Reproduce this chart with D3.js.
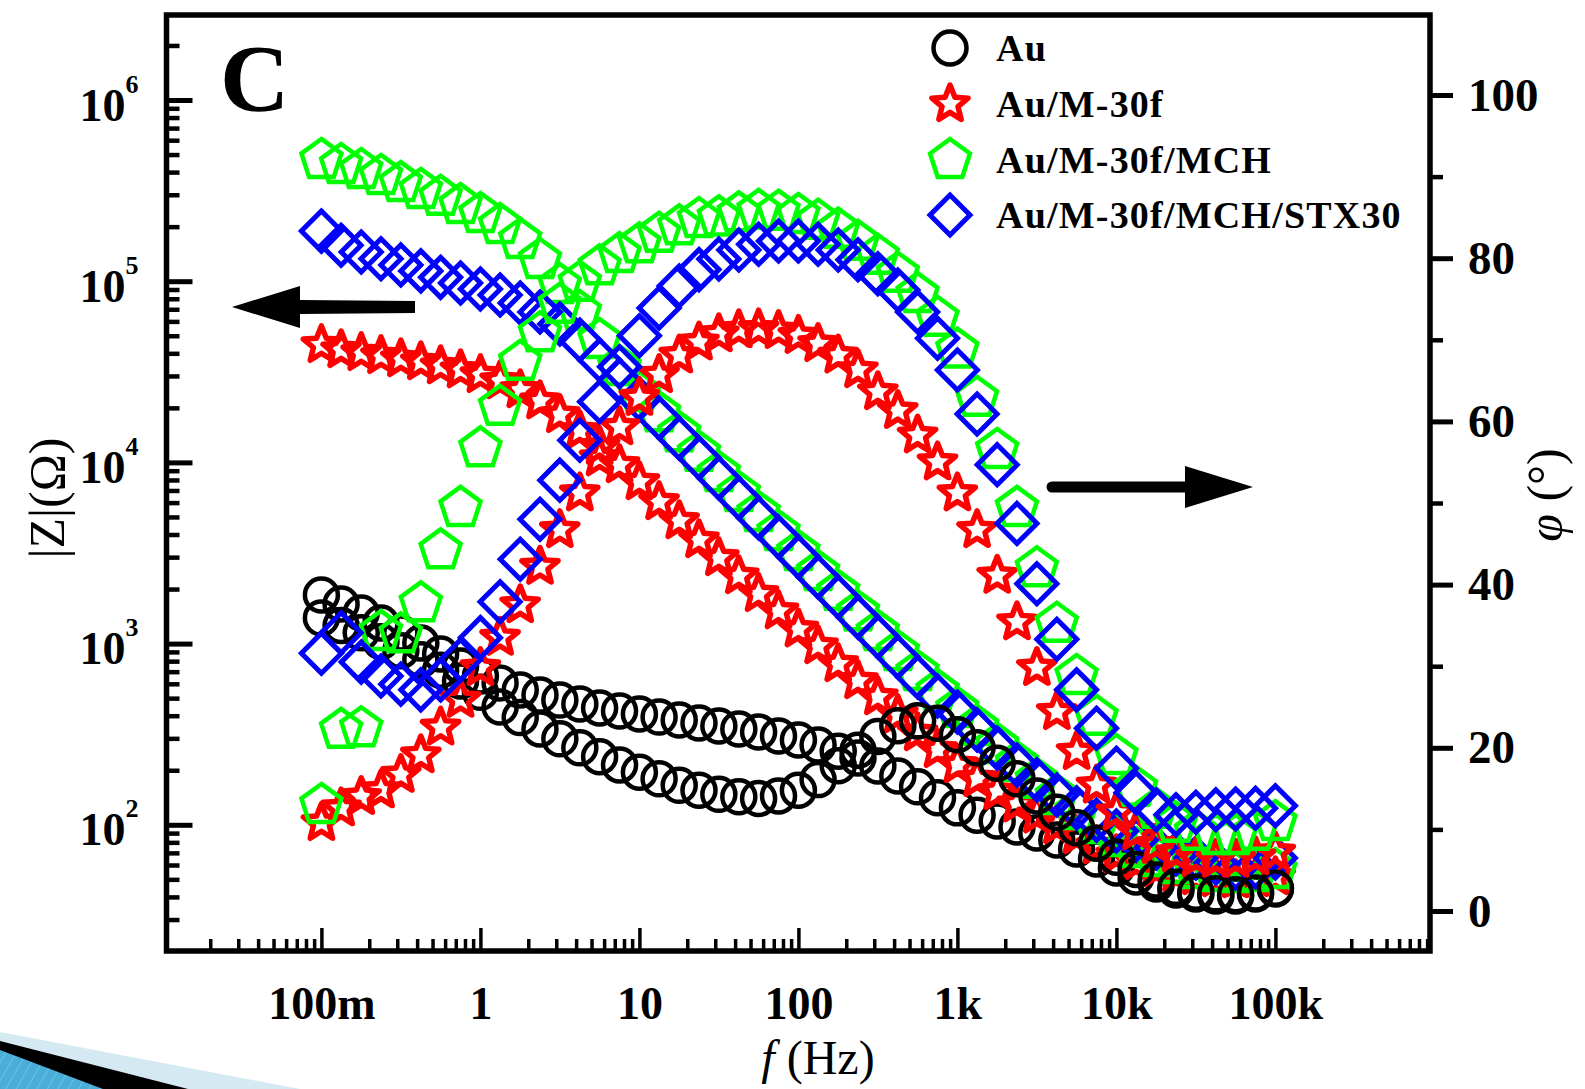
<!DOCTYPE html>
<html><head><meta charset="utf-8">
<script src="https://cdn.jsdelivr.net/npm/d3@7"></script>
<style>html,body{margin:0;padding:0;background:#fff}svg{display:block}</style>
</head><body>
<svg id="c" width="1585" height="1089"></svg>
<script>
// ---------------- data ----------------
const freq = [0.1,0.133,0.178,0.237,0.316,0.422,0.562,0.75,
  1,1.33,1.78,2.37,3.16,4.22,5.62,7.5,
  10,13.3,17.8,23.7,31.6,42.2,56.2,75,
  100,133,178,237,316,422,562,750,
  1000,1330,1780,2370,3160,4220,5620,7500,
  10000,13300,17800,23700,31600,42200,56200,75000,100000];

const seriesNames = ["Au","Au/M-30f","Au/M-30f/MCH","Au/M-30f/MCH/STX30"];

// |Z| (Ohm)
const zAu = [1855,1654,1476,1299,1144,1008,876,752,663,606,555,520,488,464,441,425,409,393,379,365,351,338,325,309,294,276,255,234,211,186,162,141,124,113,105,97.3,90.1,82.4,73.5,64.8,57.8,51.5,47.1,43.7,41.5,40.5,40.5,41.5,44.2];
const zM30f = [44500,41700,40200,38700,37200,35800,34000,32300,30400,28100,25100,21800,18300,14900,12200,9680,7800,6050,4750,3730,2970,2360,1880,1510,1200,970,772,622,507,404,321,259,214,179,152,130,113,98.5,86.8,76.4,68.1,61.5,57.0,53.5,51.5,50.2,49.6,50.2,51.5];
const zMCH = [467000,438000,411000,381000,348000,319000,292000,263000,235000,204000,169000,131000,95300,67600,47400,33600,24200,18700,14500,11300,8740,6780,5260,4130,3200,2480,1930,1490,1160,899,697,547,436,347,276,219,177,144,119,99.7,84.6,73.5,65.6,60.0,56.3,54.2,53.5,54.2,56.3];
const zSTX = [189000,158000,145000,133000,123000,114000,105000,97700,90600,83900,75800,67600,58000,47400,36700,28500,22400,17600,13600,10600,8200,6360,4930,3880,3010,2330,1810,1400,1090,844,654,514,419,334,265,214,177,146,124,106,92.4,82.4,74.5,69.0,65.6,61.5,57.8,58.6,65.6];

// phase (deg)
const phAu = [35.9,35.0,34.1,33.0,31.9,30.8,29.5,28.2,26.8,25.0,23.7,22.3,21.1,20.0,18.9,17.9,17.0,16.2,15.4,14.8,14.3,14.0,13.8,14.1,14.8,16.1,17.8,19.7,21.4,22.7,23.3,23.0,21.6,20.0,18.1,16.2,14.1,12.1,10.2,8.3,6.6,5.1,3.8,2.9,2.3,2.1,2.0,2.2,2.8];
const phM30f = [10.8,12.6,14.0,14.8,16.7,19.1,22.5,25.9,29.8,33.5,37.5,42.2,46.7,51.2,55.5,59.3,62.9,65.7,68.1,69.7,70.7,71.2,71.3,71.1,70.5,69.5,68.1,66.3,63.6,61.3,58.3,55.0,51.2,46.7,41.1,35.4,29.8,24.4,19.5,15.4,12.1,9.7,8.1,7.1,6.5,6.3,6.3,6.6,7.2];
const phMCH = [13.0,22.2,22.4,34.2,33.9,37.7,44.2,49.4,56.7,61.8,67.3,70.8,74.3,77.0,79.0,80.5,81.7,83.0,83.9,84.8,85.0,85.5,85.8,85.7,85.3,84.6,83.5,82.0,80.3,78.1,75.6,72.7,68.8,62.9,56.5,49.4,42.0,35.2,28.8,23.8,19.0,15.1,12.4,10.7,9.7,9.2,9.2,9.7,10.9];
const phSTX = [31.6,34.1,30.5,28.8,27.8,27.1,28.3,30.8,33.5,37.9,43.1,48.0,52.8,57.7,62.4,66.7,70.5,73.9,76.6,78.6,79.9,81.0,81.7,82.1,82.1,81.7,81.0,79.8,78.1,76.1,73.4,70.2,66.3,60.9,54.7,47.5,40.1,33.3,27.1,22.4,17.5,14.5,12.4,11.8,12.1,12.4,12.5,12.6,12.9];

// ticks
const xTickValues = [0.1,1,10,100,1000,10000,100000];
const xTickLabels = ["100m","1","10","100","1k","10k","100k"];
const zTickExponents = [2,3,4,5,6];
const phaseTicks = [0,20,40,60,80,100];
const phaseMinorTicks = [10,30,50,70,90];

// ---------------- drawing ----------------
const W = 1585, H = 1089;
const L = 166.5, R = 1430, T = 15, B = 951;
const FONT = "'Liberation Serif','Times New Roman',serif";

const svg = d3.select("#c");
svg.append("rect").attr("width", W).attr("height", H).attr("fill", "#fff");

// decorative slide corner
const defs = svg.append("defs");
const pat = defs.append("pattern").attr("id","hatch").attr("patternUnits","userSpaceOnUse")
  .attr("width",9).attr("height",9).attr("patternTransform","rotate(30)");
pat.append("rect").attr("width",9).attr("height",9).attr("fill","#49aed8");
pat.append("line").attr("x1",0).attr("y1",0).attr("x2",0).attr("y2",9).attr("stroke","#7cc6e4").attr("stroke-width",1.5);
svg.append("path").attr("d","M0,1032 L300,1089 L0,1089 Z").attr("fill","#d4e9f1");
svg.append("path").attr("d","M0,1041 L188,1089 L0,1089 Z").attr("fill","#000");
svg.append("path").attr("d","M0,1050 L103,1089 L0,1089 Z").attr("fill","url(#hatch)");

const x = d3.scaleLog().domain([0.1, 1e5]).range([321.4, 1275.4]);
const yZ = d3.scaleLog().domain([1e2, 1e6]).range([824.8, 100]);
const yP = d3.scaleLinear().domain([0, 100]).range([911, 95]);

function styleAxis(g, sw, fs) {
  g.select(".domain").remove();
  g.selectAll(".tick line").attr("stroke", "#000").attr("stroke-width", sw);
  g.selectAll(".tick text").attr("fill", "#000").attr("font-family", FONT)
    .attr("font-weight", "bold").attr("font-size", fs || 46);
}

// bottom axis: minor + major
const xMinor = [];
for (let d = -2; d <= 5; d++) for (let m = 2; m <= 9; m++) {
  const v = m * Math.pow(10, d), px = x(v);
  if (px > L + 3 && px < R - 2) xMinor.push(v);
}
const gxm = svg.append("g").attr("transform", `translate(0,${B})`)
  .call(d3.axisBottom(x).tickValues(xMinor).tickSize(-12).tickFormat(""));
styleAxis(gxm, 3.5);
const gx = svg.append("g").attr("transform", `translate(0,${B})`)
  .call(d3.axisBottom(x).tickValues(xTickValues).tickSize(-23).tickPadding(35)
    .tickFormat((d, i) => xTickLabels[i]));
styleAxis(gx, 3.5, 46);

// left axis (log |Z|), ticks inward
const zMinor = [];
for (let d = 1; d <= 6; d++) for (let m = 2; m <= 9; m++) {
  const v = m * Math.pow(10, d), py = yZ(v);
  if (py > T + 3 && py < B - 3) zMinor.push(v);
}
const gym = svg.append("g").attr("transform", `translate(${L},0)`)
  .call(d3.axisLeft(yZ).tickValues(zMinor).tickSize(-13).tickFormat(""));
styleAxis(gym, 4.5);
const gy = svg.append("g").attr("transform", `translate(${L},0)`)
  .call(d3.axisLeft(yZ).tickValues(zTickExponents.map(e => Math.pow(10, e))).tickSize(-26).tickFormat(""));
styleAxis(gy, 5);
gy.selectAll(".tick").each(function (d, i) {
  const t = d3.select(this).append("text").attr("x", -28).attr("y", 20)
    .attr("text-anchor", "end").attr("fill", "#000").attr("font-family", FONT)
    .attr("font-weight", "bold").attr("font-size", 46);
  t.append("tspan").text("10");
  t.append("tspan").attr("dy", -28).attr("font-size", 26).text(zTickExponents[i]);
});

// right axis (phase), ticks outward
const gpm = svg.append("g").attr("transform", `translate(${R},0)`)
  .call(d3.axisRight(yP).tickValues(phaseMinorTicks).tickSize(13).tickFormat(""));
styleAxis(gpm, 4.5);
const gp = svg.append("g").attr("transform", `translate(${R},0)`)
  .call(d3.axisRight(yP).tickValues(phaseTicks).tickSize(23).tickPadding(15));
styleAxis(gp, 5, 47);

// frame
svg.append("rect").attr("x", L).attr("y", T).attr("width", R - L).attr("height", B - T)
  .attr("fill", "none").attr("stroke", "#000").attr("stroke-width", 5.5);

// axis titles
svg.append("text").attr("transform", "translate(64,498) rotate(-90)")
  .attr("text-anchor", "middle").attr("font-family", FONT).attr("font-size", 50)
  .attr("fill", "#000").text("|Z|(Ω)");
const pt = svg.append("text").attr("transform", "translate(1562,495) rotate(-90)")
  .attr("text-anchor", "middle").attr("font-family", FONT).attr("font-size", 50).attr("fill", "#000");
pt.append("tspan").attr("font-style", "italic").text("φ");
pt.append("tspan").text(" (°)");
const xt = svg.append("text").attr("x", 818).attr("y", 1074).attr("text-anchor", "middle")
  .attr("font-family", FONT).attr("font-size", 48).attr("fill", "#000");
xt.append("tspan").attr("font-style", "italic").text("f");
xt.append("tspan").text(" (Hz)");

// panel letter
svg.append("text").attr("x", 220).attr("y", 111).attr("font-family", FONT)
  .attr("font-weight", "bold").attr("font-size", 96).attr("fill", "#000").text("C");

// arrows
svg.append("path").attr("fill", "#000")
  .attr("d", "M232,307 L300,286 L300,300 L415,301 L415,313 L300,314 L300,328 Z");
svg.append("path").attr("fill", "#000")
  .attr("d", "M1253,487 L1185,466 L1185,481.5 L1052,481.5 A5.5,5.5 0 0 0 1052,492.5 L1185,492.5 L1185,508 Z");

// marker shapes
const starT = { draw(ctx, size) { const Ro = Math.sqrt(size), Ri = Ro * 0.44;
  for (let k = 0; k < 10; k++) { const a = -Math.PI / 2 + k * Math.PI / 5, rr = k % 2 ? Ri : Ro;
    const px = rr * Math.cos(a), py = rr * Math.sin(a); k ? ctx.lineTo(px, py) : ctx.moveTo(px, py); }
  ctx.closePath(); } };
const pentT = { draw(ctx, size) { const Ro = Math.sqrt(size);
  for (let k = 0; k < 5; k++) { const a = -Math.PI / 2 + k * 2 * Math.PI / 5;
    const px = Ro * Math.cos(a), py = Ro * Math.sin(a); k ? ctx.lineTo(px, py) : ctx.moveTo(px, py); }
  ctx.closePath(); } };
const diamT = { draw(ctx, size) { const Ro = Math.sqrt(size);
  ctx.moveTo(0, -Ro); ctx.lineTo(Ro, 0); ctx.lineTo(0, Ro); ctx.lineTo(-Ro, 0); ctx.closePath(); } };

const styles = [
  { color: "#000000", type: d3.symbolCircle, size: Math.PI * 16.5 * 16.5, sw: 4.5, join: "round" },
  { color: "#ff0000", type: starT, size: 19 * 19, sw: 5.5, join: "round" },
  { color: "#00ff00", type: pentT, size: 21 * 21, sw: 4.5, join: "miter" },
  { color: "#0000ff", type: diamT, size: 20 * 20, sw: 5, join: "miter" }
];
const zData = [zAu, zM30f, zMCH, zSTX];
const pData = [phAu, phM30f, phMCH, phSTX];

function drawSeries(vals, yScale, st) {
  const sym = d3.symbol().type(st.type).size(st.size);
  svg.append("g").selectAll("path").data(vals).join("path")
    .attr("transform", (v, i) => `translate(${x(freq[i])},${yScale(v)})`)
    .attr("d", sym).attr("fill", "none").attr("stroke", st.color)
    .attr("stroke-width", st.sw).attr("stroke-linejoin", st.join);
}
zData.forEach((arr, k) => drawSeries(arr, yZ, styles[k]));
pData.forEach((arr, k) => drawSeries(arr, yP, styles[k]));

// legend
const legY = [48, 104, 160, 215];
const leg = svg.append("g");
seriesNames.forEach((name, k) => {
  const st = styles[k];
  leg.append("path").attr("transform", `translate(950,${legY[k]})`)
    .attr("d", d3.symbol().type(st.type).size(st.size)).attr("fill", "none")
    .attr("stroke", st.color).attr("stroke-width", st.sw).attr("stroke-linejoin", st.join);
  leg.append("text").attr("x", 996).attr("y", legY[k] + 13).attr("font-family", FONT)
    .attr("font-weight", "bold").attr("font-size", 38).attr("letter-spacing", 1.2)
    .attr("fill", "#000").text(name);
});
</script>
</body></html>
